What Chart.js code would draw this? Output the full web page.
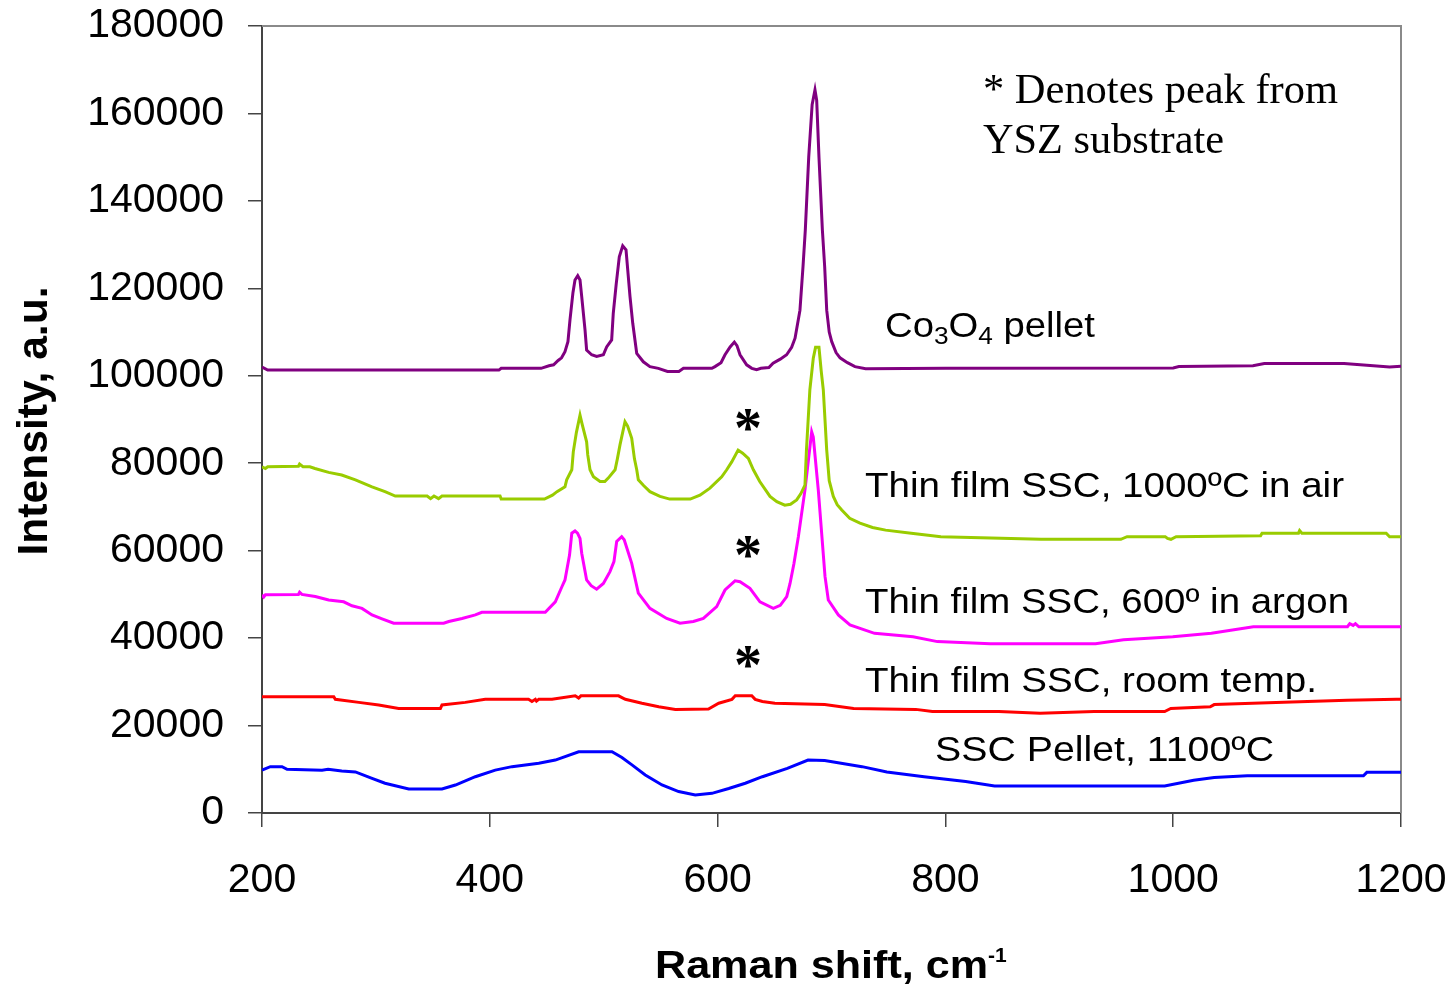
<!DOCTYPE html>
<html lang="en">
<head>
<meta charset="UTF-8">
<title>Raman spectra</title>
<script src="https://cdn.jsdelivr.net/npm/chart.js@4.4.0/dist/chart.umd.min.js"></script>
<style>
  html, body { margin: 0; padding: 0; background: #fff; }
  canvas { display: block; }
</style>
</head>
<body>
<canvas id="raman" width="1452" height="985"></canvas>
<script>
// axis ticks
const xTicks = [200, 400, 600, 800, 1000, 1200];
const yTicks = [0, 20000, 40000, 60000, 80000, 100000, 120000, 140000, 160000, 180000];

// Co3O4 pellet
const co3o4Shift = [200, 205, 408, 410, 445, 452, 456, 460, 463, 466,
  468.6, 470.4, 473, 474.8, 477.2, 479.2, 480.7, 483.6, 485, 489.4,
  493.8, 499.7, 502.6, 507, 508.4, 511, 513.7, 516.7, 519.6, 523.1,
  525.5, 529, 534.8, 540.6, 548, 556, 561, 566, 570, 595,
  597.7, 603, 606.5, 611, 614.7, 617, 619.7, 625.5, 630, 634.3,
  638, 645, 648.7, 655, 660.6, 665, 668, 672.3, 675, 677,
  680, 683, 685.5, 687, 689, 692, 694, 695.8, 698, 700.2,
  704, 707.5, 714, 720.6, 730, 800, 1000, 1005, 1070, 1080,
  1150, 1170, 1190, 1200];
const co3o4Int = [102000, 101300, 101300, 101700, 101700, 102300, 102500, 103500, 104100, 105500,
  107800, 112800, 119000, 121900, 122900, 121900, 118100, 110500, 105900, 104800,
  104400, 104800, 106600, 108200, 114300, 121000, 127200, 129700, 128800, 118100,
  112000, 105100, 103200, 102100, 101700, 101000, 101000, 101000, 101700, 101700,
  102100, 103000, 104800, 106600, 107700, 106900, 104800, 102500, 101700, 101400,
  101700, 101900, 102900, 103800, 104800, 106500, 108600, 115000, 125000, 133300,
  150000, 162000, 165400, 163000, 150000, 133300, 125000, 115000, 110000, 107800,
  105300, 104100, 103000, 102100, 101600, 101700, 101800, 102100, 102300, 102800,
  102800, 102400, 102000, 102200];

// thin film SSC, 1000 C in air
const airShift = [200, 203, 205, 232, 233, 236, 242, 246.5, 258.5, 270,
  282, 296.6, 308, 317, 345, 348, 351, 355, 358, 409,
  410, 448, 455, 459, 466, 467.5, 472, 473.3, 476, 479.2,
  481, 485, 486, 488, 491, 496.8, 501, 504, 510, 512,
  514.3, 518.7, 521, 524.6, 527, 529, 530.4, 535, 540.6, 549.4,
  558, 576, 584.5, 593.3, 603.6, 608, 612.4, 618, 622, 627,
  631.4, 637, 646, 652, 659, 664, 669.4, 673, 676.7, 678,
  681, 684, 686, 689, 691, 692.8, 695.8, 698, 701.6, 705,
  709, 716, 725, 736, 747.5, 770, 796, 884, 954, 959.5,
  993, 995, 998, 1002.6, 1076.7, 1078, 1110, 1111, 1113, 1187,
  1190, 1200];
const airInt = [79200, 78800, 79200, 79300, 79800, 79200, 79200, 78800, 77900, 77300,
  76200, 74600, 73500, 72500, 72500, 71900, 72500, 71900, 72500, 72500,
  71800, 71800, 72700, 73500, 74600, 76200, 78500, 82600, 87000, 91000,
  89000, 84900, 81900, 78500, 76900, 75800, 75800, 76600, 78500, 81000,
  84200, 89500, 88500, 85700, 81000, 78500, 76200, 74900, 73500, 72400,
  71800, 71800, 72700, 74300, 76900, 78500, 80300, 83000, 82300, 81100,
  78500, 75800, 72400, 71200, 70400, 70600, 71600, 73000, 75000, 83000,
  96800, 104000, 106500, 106500, 101000, 96800, 83000, 76000, 72400, 70500,
  69300, 67400, 66300, 65300, 64700, 64000, 63200, 62600, 62600, 63200,
  63200, 62800, 62600, 63200, 63400, 64000, 64000, 64600, 64000, 64000,
  63200, 63200];

// thin film SSC, 600 in argon
const argonShift = [200, 201.5, 203, 232, 233, 235, 246.8, 258.5, 271.7, 279,
  287.8, 296.6, 305.4, 315.6, 359.5, 364, 375.6, 387.3, 393, 448.7,
  457.5, 463.4, 466, 470, 472, 474.8, 477, 479.2, 480.7, 485,
  489, 493.8, 499.7, 505.5, 509, 511.4, 515.8, 518, 524.6, 530.4,
  540.6, 555.3, 567, 578.7, 587.5, 599.2, 606.5, 615.3, 619.7, 628.4,
  637.2, 648.9, 655, 660.7, 663.6, 667, 670.9, 676.7, 682.6, 684,
  688.4, 694.3, 697.2, 706, 716.2, 737.8, 771.6, 793, 839.4, 931.8,
  956.4, 999.6, 1033.5, 1070.4, 1153, 1155, 1158, 1160, 1163, 1200];
const argonInt = [49900, 49400, 49900, 50000, 50500, 50000, 49500, 48700, 48300, 47400,
  46800, 45300, 44400, 43400, 43400, 43800, 44500, 45300, 45900, 45900,
  48300, 51800, 53300, 59000, 64000, 64500, 64000, 62800, 59400, 53300,
  52000, 51200, 52500, 55200, 57500, 62100, 63200, 62500, 57100, 50300,
  46800, 44500, 43400, 43800, 44500, 47200, 51000, 53100, 52900, 51400,
  48300, 46800, 47500, 49500, 52500, 57000, 63200, 73900, 87200, 86000,
  73900, 54100, 48700, 45300, 43000, 41100, 40300, 39200, 38700, 38700,
  39600, 40300, 41100, 42600, 42600, 43300, 42900, 43300, 42600, 42600];

// thin film SSC, room temp.
const roomShift = [200, 263, 264.4, 285, 302.5, 320, 356.6, 358, 378.5, 396,
  434, 437, 440, 441, 443, 454.6, 475, 478, 480, 513,
  519, 533.6, 548.3, 562.9, 592, 601, 612.6, 615.5, 630, 633,
  639.3, 650.3, 694, 719.4, 774, 788.6, 846.9, 883.2, 930.6, 992.5,
  997.9, 1032.5, 1036, 1083.4, 1152.6, 1196, 1200];
const roomInt = [26600, 26600, 26000, 25300, 24700, 23900, 23900, 24700, 25300, 26000,
  26000, 25500, 26000, 25600, 26000, 26000, 26800, 26300, 26800, 26800,
  26000, 25100, 24300, 23700, 23800, 25100, 26000, 26800, 26800, 26000,
  25500, 25100, 24800, 23900, 23700, 23200, 23200, 22800, 23200, 23200,
  23900, 24300, 24800, 25200, 25800, 26000, 26000];

// SSC pellet, 1100 C
const pelletShift = [200, 207.3, 217.6, 222, 252.7, 258, 270, 282, 296.6, 308,
  328.8, 358, 369.8, 387.3, 404.8, 419.5, 443, 457.5, 478, 507.3,
  516, 524.8, 536.5, 551.2, 565.8, 580.4, 595, 609.8, 624.3, 639.3,
  661.2, 679.4, 694, 726.8, 748.6, 781.3, 817.8, 843.2, 992.5, 1018,
  1036, 1065, 1167, 1170, 1200];
const pelletInt = [9800, 10600, 10600, 10000, 9800, 10000, 9600, 9400, 7900, 6800,
  5500, 5500, 6400, 8300, 9800, 10600, 11400, 12100, 14000, 14000,
  12700, 11000, 8700, 6400, 4900, 4100, 4500, 5600, 6800, 8300,
  10200, 12100, 12000, 10600, 9400, 8300, 7200, 6200, 6200, 7500,
  8100, 8500, 8500, 9300, 9300];

const SANS = "'Liberation Sans', Arial, sans-serif";
const SERIF = "'Liberation Serif', 'Times New Roman', serif";

function pts(xs, ys) {
  return xs.map((x, i) => ({ x: x, y: ys[i] }));
}

function series(xs, ys, color) {
  return { data: pts(xs, ys), borderColor: color, backgroundColor: color,
           borderWidth: 3, pointRadius: 0, tension: 0, fill: false };
}

// draw text squeezed/stretched to a given width, left aligned on a baseline
function fitText(ctx, text, x, y, font, width) {
  ctx.save();
  ctx.font = font;
  const w = ctx.measureText(text).width;
  ctx.translate(x, y);
  ctx.scale(width / w, 1);
  ctx.fillText(text, 0, 0);
  ctx.restore();
}

function star(ctx, cx, cy) {
  ctx.save();
  ctx.font = 'bold 56px ' + SERIF;
  ctx.textAlign = 'center';
  const m = ctx.measureText('*');
  ctx.fillText('*', cx, cy + (m.actualBoundingBoxAscent - m.actualBoundingBoxDescent) / 2);
  ctx.restore();
}

const decor = {
  id: 'decor',
  beforeDatasetsDraw(chart) {
    const { ctx, chartArea: a } = chart;
    ctx.save();
    ctx.strokeStyle = '#8a8a8a';
    ctx.lineWidth = 2;
    ctx.beginPath();
    ctx.moveTo(a.left, a.top);
    ctx.lineTo(a.right, a.top);
    ctx.lineTo(a.right, a.bottom);
    ctx.stroke();
    ctx.restore();
  },
  afterDraw(chart) {
    const ctx = chart.ctx;
    ctx.save();
    ctx.fillStyle = '#000';
    ctx.textBaseline = 'alphabetic';
    ctx.textAlign = 'left';

    // note in the top right
    fitText(ctx, '* Denotes peak from', 983, 103, '42px ' + SERIF, 355);
    fitText(ctx, 'YSZ substrate', 983, 153, '42px ' + SERIF, 241);

    // Co3O4 pellet with subscripts
    const parts = [['Co', 0], ['3', 1], ['O', 0], ['4', 1], [' pellet', 0]];
    ctx.save();
    let total = 0;
    parts.forEach(p => {
      ctx.font = (p[1] ? '24px ' : '35px ') + SANS;
      total += ctx.measureText(p[0]).width;
    });
    ctx.translate(885, 337);
    ctx.scale(210 / total, 1);
    let px = 0;
    parts.forEach(p => {
      ctx.font = (p[1] ? '24px ' : '35px ') + SANS;
      ctx.fillText(p[0], px, p[1] ? 7 : 0);
      px += ctx.measureText(p[0]).width;
    });
    ctx.restore();

    fitText(ctx, 'Thin film SSC, 1000ºC in air', 865, 497, '35px ' + SANS, 479);
    fitText(ctx, 'Thin film SSC, 600º in argon', 865, 613, '35px ' + SANS, 484);
    fitText(ctx, 'Thin film SSC, room temp.', 865, 692, '35px ' + SANS, 452);
    fitText(ctx, 'SSC Pellet, 1100ºC', 935, 761, '35px ' + SANS, 339);

    star(ctx, 748, 420);
    star(ctx, 748, 547);
    star(ctx, 748, 657);

    // axis titles
    fitText(ctx, 'Raman shift, cm', 655, 978, 'bold 38px ' + SANS, 333);
    ctx.font = 'bold 21px ' + SANS;
    ctx.fillText('-1', 988, 962);

    ctx.save();
    ctx.translate(32, 421);
    ctx.rotate(-Math.PI / 2);
    ctx.font = 'bold 42px ' + SANS;
    const tw = ctx.measureText('Intensity, a.u.').width;
    ctx.scale(269 / tw, 1);
    ctx.textAlign = 'center';
    ctx.fillText('Intensity, a.u.', 0, 15);
    ctx.restore();

    ctx.restore();
  }
};

new Chart(document.getElementById('raman'), {
  type: 'line',
  data: {
    datasets: [
      series(co3o4Shift, co3o4Int, '#800080'),
      series(airShift, airInt, '#99cc00'),
      series(argonShift, argonInt, '#ff00ff'),
      series(roomShift, roomInt, '#ff0000'),
      series(pelletShift, pelletInt, '#0000ff')
    ]
  },
  options: {
    responsive: false,
    animation: false,
    devicePixelRatio: 1,
    layout: { padding: { top: 26, right: 51, left: 0, bottom: 0 } },
    plugins: { legend: { display: false }, tooltip: { enabled: false } },
    scales: {
      x: {
        type: 'linear',
        min: xTicks[0],
        max: xTicks[xTicks.length - 1],
        afterBuildTicks: s => { s.ticks = xTicks.map(v => ({ value: v })); },
        afterFit: s => { s.height = 172; s.paddingLeft = 0; s.paddingRight = 0; },
        ticks: { color: '#000', font: { family: SANS, size: 41 }, padding: 29,
                 maxRotation: 0, autoSkip: false, callback: v => String(v) },
        grid: { drawOnChartArea: false, tickLength: 14, color: '#444', lineWidth: 1.5 },
        border: { color: '#444', width: 2 }
      },
      y: {
        type: 'linear',
        min: yTicks[0],
        max: yTicks[yTicks.length - 1],
        afterBuildTicks: s => { s.ticks = yTicks.map(v => ({ value: v })); },
        afterFit: s => { s.width = 262; s.paddingTop = 0; s.paddingBottom = 0; },
        ticks: { color: '#000', font: { family: SANS, size: 41 }, padding: 24,
                 autoSkip: false, callback: v => String(v) },
        grid: { drawOnChartArea: false, tickLength: 14, color: '#444', lineWidth: 1.5 },
        border: { color: '#444', width: 2 }
      }
    }
  },
  plugins: [decor]
});
</script>
</body>
</html>
